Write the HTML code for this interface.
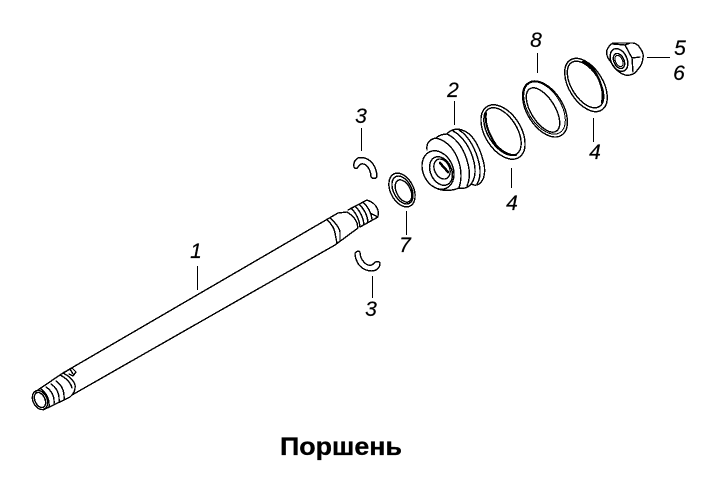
<!DOCTYPE html>
<html><head><meta charset="utf-8"><style>
html,body{margin:0;padding:0;background:#fff}
svg{display:block}
text{font-family:"Liberation Sans",sans-serif;fill:#000}
.n{font-size:21px;font-style:italic;text-anchor:middle;stroke:#000;stroke-width:.2px}
</style></head><body>
<svg width="728" height="484" viewBox="0 0 728 484" xmlns="http://www.w3.org/2000/svg">
<g fill="none" stroke="#000" stroke-width="1.4" stroke-linejoin="round" stroke-linecap="round" shape-rendering="crispEdges">
<!-- shaft -->
<path d="M63 373 L75 366 L338 213 L347 212 M72 395 L335 245 L358 228"/>
<path d="M327 220 Q334 226 335 233 L337 243 M330 218 Q339 226 340 232 L340 240"/>
<path d="M57 377 L63 373 Q73 378 75 385 Q76 392 70 397 L66 399 M60 375 Q70 380 72 388"/>
<path d="M65 372 L72 368 L76 372 L73 376 L69 374 M70 369 L73 374"/>
<!-- left thread -->
<path d="M35 392 L57 377 M43 410 L66 399"/>
<ellipse cx="40" cy="400" rx="7" ry="10" transform="rotate(-25 40 400)"/>
<ellipse cx="40" cy="400" rx="5" ry="8" transform="rotate(-25 40 400)"/>
<path d="M41 389 Q50 396 49 407 M46 387 Q55 393 54 404 M51 384 Q60 390 59 402 M56 381 Q65 387 64 400"/>
<!-- right thread -->
<path d="M347 212 Q355 217 357 223 L358 228 M348 210 L367 200 Q375 203 377 208 Q379 212 378 216 M360 227 L378 217 L370 213"/>
<path d="M351 208 Q359 216 360 227 M355 206 Q363 214 364 225 M359 204 Q367 212 368 222 M363 202 Q371 210 372 219"/>
<!-- clip top -->
<path d="M354 167 Q353 161 358 158 Q367 156 373 164 Q377 170 377 177 Q374 180 371 177 Q371 170 366 165 Q361 162 358 167 Q356 170 354 167Z"/>
<!-- clip bottom -->
<path d="M355 253 Q358 250 360 252 Q360 259 366 264 Q371 267 374 263 Q378 260 380 263 Q380 270 372 271 Q364 271 359 265 Q355 259 355 253Z"/>
<!-- ring 7 -->
<ellipse cx="402" cy="190" rx="11.500" ry="18" transform="rotate(-27 402 190)"/>
<ellipse cx="402.500" cy="190" rx="9" ry="15" transform="rotate(-27 402.500 190)"/>
<ellipse cx="403.500" cy="191" rx="7" ry="12" transform="rotate(-27 403.500 191)"/>
<!-- piston 2 -->
<path d="M427 150 C426 142 431 139 436 138 C439 135 444 134 447 134 C450 130 456 128 462 130 C472 133 479 145 483 160 C486 170 485 180 479 184 C476 186 473 185 471 184 C468 188 463 189 459 188 C452 191 444 191 438 189"/>
<ellipse cx="438" cy="170" rx="15" ry="20" transform="rotate(-25 438 170)"/>
<ellipse cx="441" cy="171" rx="10.500" ry="15" transform="rotate(-25 441 171)"/>
<ellipse cx="442" cy="169" rx="7.500" ry="10.500" transform="rotate(-25 442 169)"/>
<path d="M440 163 L448 172" stroke-width="2.500"/>
<path d="M436 138 C449 141 457 153 460 166 C462 175 461 182 459 188"/>
<path d="M447 134 C458 139 465 151 468 164 C470 172 470 179 467 186"/>
<path d="M453 131 C463 136 471 149 474 162 C476 171 475 179 471 184"/>
<path d="M459 130 C469 136 476 150 479 163 C481 172 480 179 477 184"/>
<!-- ring 4 left -->
<ellipse cx="503" cy="132" rx="18" ry="30" transform="rotate(-32 503 132)"/>
<ellipse cx="502.500" cy="131.500" rx="14.500" ry="26.500" transform="rotate(-32 502.500 131.500)"/>
<path d="M491 114 Q510 112 519 146" stroke-width="1" opacity="0"/>
<path d="M486 113 Q484 127 496 145 Q506 156 516 155" stroke-width="2"/>
<!-- ring 8 -->
<ellipse cx="545" cy="109" rx="18" ry="31" transform="rotate(-32 545 109)"/>
<ellipse cx="544.500" cy="108" rx="16.500" ry="29" transform="rotate(-32 544.500 108)" stroke-width="1"/>
<ellipse cx="543" cy="110" rx="12" ry="25" transform="rotate(-32 543 110)"/>
<!-- ring 4 right -->
<ellipse cx="586" cy="85" rx="17" ry="29.500" transform="rotate(-32 586 85)"/>
<ellipse cx="585.500" cy="84.500" rx="14" ry="26" transform="rotate(-32 585.500 84.500)"/>
<path d="M583 62 Q595 66 601 85 Q604 94 602 102" stroke-width="2.200"/>
<!-- nut -->
<path d="M607 50 Q609 45 613 43 L633 43 Q638 44 640 48 Q644 53 643 58 Q642 65 639 68 L635 73 Q630 76 625 75 Q619 73 615 68 L608 58 Q606 54 607 50Z"/>
<path d="M613 44 L625 45 L632 58 L633 72 M632 58 L640 57 M625 45 L630 43"/>
<ellipse cx="619" cy="60" rx="8" ry="12" transform="rotate(-25 619 60)"/>
<ellipse cx="619" cy="61" rx="5" ry="8" transform="rotate(-25 619 61)"/>
<ellipse cx="619" cy="61" rx="3.500" ry="6" transform="rotate(-25 619 61)" stroke-width="1"/>
</g>
<!-- leaders -->
<g stroke="#000" stroke-width="1.200" fill="none" shape-rendering="crispEdges">
<path d="M197.500 266V290M361.500 128V151M454.500 101V125M537.500 53V73M647 57.500H670M593.500 118V142M511.500 168V188M406.500 211V235M372.500 276V298"/>
</g>
<!-- labels -->
<text class="n" x="196" y="258">1</text>
<text class="n" x="361" y="123">3</text>
<text class="n" x="453" y="97">2</text>
<text class="n" x="536" y="47">8</text>
<text class="n" x="680" y="55">5</text>
<text class="n" x="679" y="80">6</text>
<text class="n" x="595" y="159">4</text>
<text class="n" x="512" y="210">4</text>
<text class="n" x="405" y="252">7</text>
<text class="n" x="371" y="316">3</text>
<text x="280" y="455" font-size="25" font-weight="bold" textLength="122" lengthAdjust="spacingAndGlyphs" stroke="#000" stroke-width=".3">Поршень</text>
</svg>
</body></html>
